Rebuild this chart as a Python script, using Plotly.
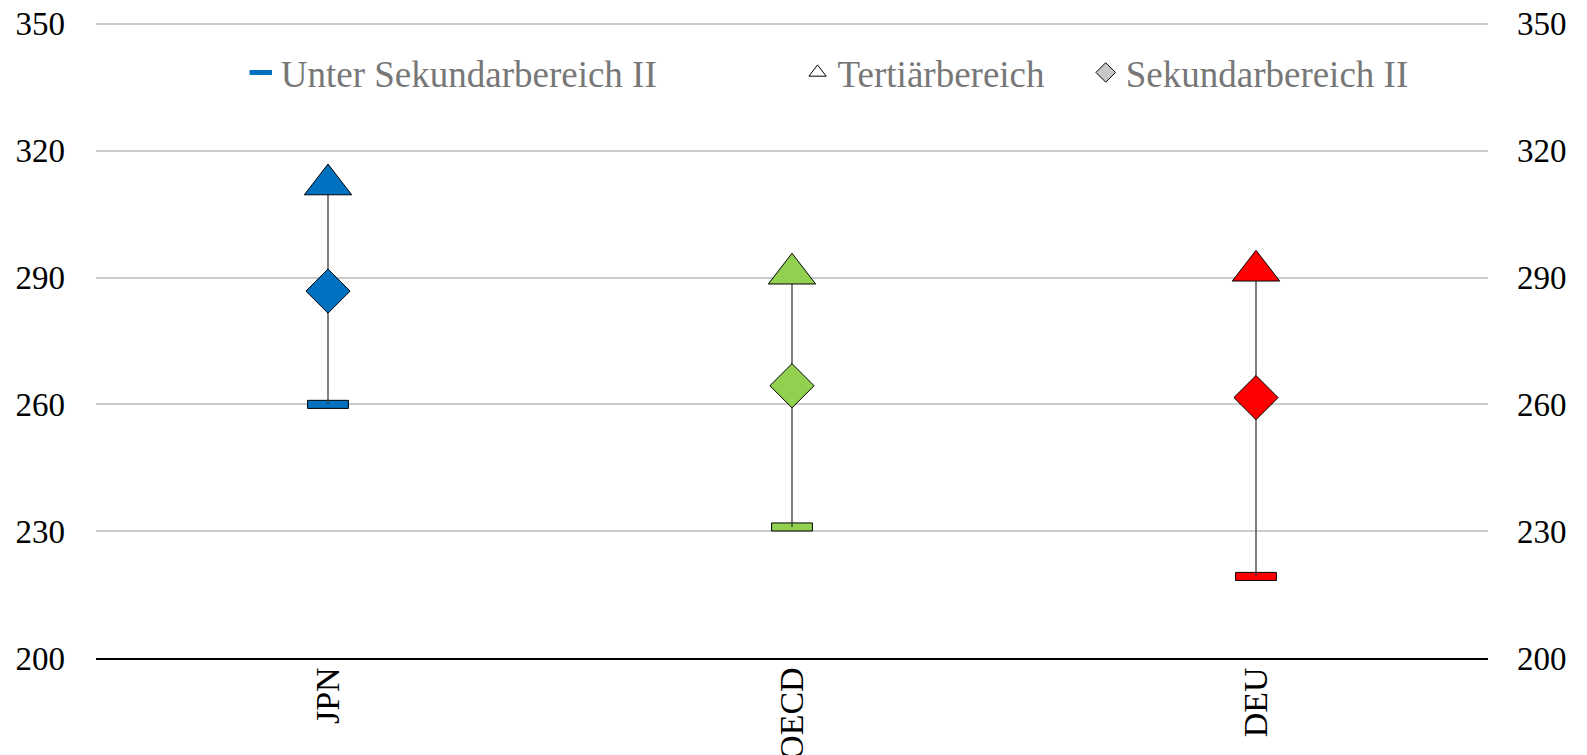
import plotly.graph_objects as go

categories = ["JPN", "OECD", "DEU"]
unter_sek2 = [260.0, 231.0, 219.3]
tertiaer = [312.0, 290.9, 291.6]
sek2 = [286.8, 264.4, 261.6]
colors = ["#0070C0", "#92D050", "#FF0000"]
y_ticks = [200, 230, 260, 290, 320, 350]

FONT = "Liberation Serif"

fig = go.Figure()

# whiskers
wx, wy = [], []
for c, lo, hi in zip(categories, unter_sek2, tertiaer):
    wx += [c, c, None]
    wy += [lo, hi, None]
fig.add_trace(go.Scatter(x=wx, y=wy, mode="lines", line=dict(color="#3a3a3a", width=1.3),
                         showlegend=False, hoverinfo="skip"))

# lower bars (Unter Sekundarbereich II)
bar_h = 1.9
fig.add_trace(go.Bar(x=categories, y=[bar_h] * 3, base=[v - bar_h / 2 for v in unter_sek2],
                     width=0.088, marker=dict(color=colors, line=dict(color="black", width=1)),
                     showlegend=False))

# tertiary triangles
fig.add_trace(go.Scatter(x=categories, y=tertiaer, mode="markers",
                         marker=dict(symbol="triangle-up", size=41, color=colors,
                                     line=dict(color="black", width=1)),
                         showlegend=False))
# secondary diamonds
fig.add_trace(go.Scatter(x=categories, y=sek2, mode="markers",
                         marker=dict(symbol="diamond", size=34, color=colors,
                                     line=dict(color="black", width=1)),
                         showlegend=False))

# legend dummies
fig.add_trace(go.Scatter(x=[None], y=[None], mode="markers", name="Unter Sekundarbereich II",
                         marker=dict(symbol="line-ew-open", size=18, color="#0070C0",
                                     line=dict(color="#0070C0", width=5)),
                         legend="legend"))
fig.add_trace(go.Scatter(x=[None], y=[None], mode="markers", name="Tertiärbereich",
                         marker=dict(symbol="triangle-up", size=15, color="white",
                                     line=dict(color="black", width=1)),
                         legend="legend2"))
fig.add_trace(go.Scatter(x=[None], y=[None], mode="markers", name="Sekundarbereich II",
                         marker=dict(symbol="diamond", size=15, color="#c8c8c8",
                                     line=dict(color="black", width=1)),
                         legend="legend3"))

# invisible trace for right axis
fig.add_trace(go.Scatter(x=categories, y=sek2, yaxis="y2", mode="markers",
                         marker=dict(opacity=0), showlegend=False, hoverinfo="skip"))

leg_font = dict(family=FONT, size=37, color="#777777")
leg_common = dict(orientation="h", yanchor="middle", y=0.92, xanchor="left",
                  bgcolor="rgba(0,0,0,0)", font=leg_font)

tick_font = dict(family=FONT, size=33, color="black")
y_range = [200, 350.45]

fig.update_layout(
    width=1579, height=747,
    margin=dict(l=88, r=99, t=14, b=97),
    paper_bgcolor="white", plot_bgcolor="white",
    barmode="overlay",
    legend=dict(x=0.104, **leg_common),
    legend2=dict(x=0.504, **leg_common),
    legend3=dict(x=0.711, **leg_common),
    xaxis=dict(type="category", categoryorder="array", categoryarray=categories,
               range=[-0.5, 2.5], showline=True, linecolor="black", linewidth=1.5,
               showgrid=False, tickangle=-90, ticks="", automargin=False,
               ticklabelstandoff=-6, ticklabeloverflow="allow",
               tickfont=dict(family=FONT, size=34, color="black")),
    yaxis=dict(range=y_range, tickvals=y_ticks, showgrid=True, gridcolor="#cccccc",
               gridwidth=1.5, zeroline=False, showline=False, ticks="", automargin=False,
               ticklabelstandoff=30, ticklabeloverflow="allow", tickfont=tick_font),
    yaxis2=dict(range=y_range, tickvals=y_ticks, overlaying="y", side="right",
                showgrid=False, zeroline=False, showline=False, ticks="", automargin=False,
                ticklabelstandoff=28, ticklabeloverflow="allow", tickfont=tick_font),
)

fig.write_html("out.html")
